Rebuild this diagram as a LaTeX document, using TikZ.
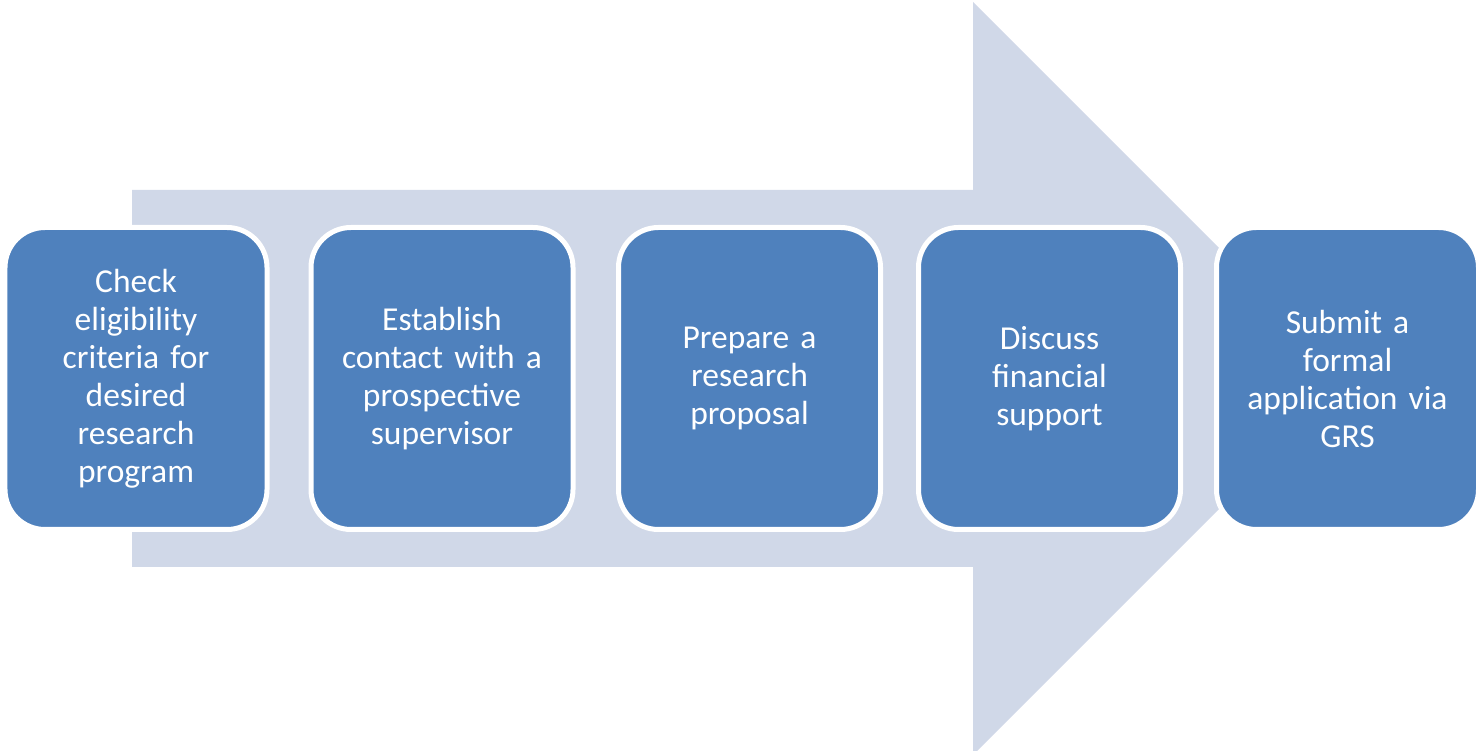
\documentclass[tikz,border=0pt]{standalone}
\usepackage{fontspec}
\setmainfont{Carlito}
\usetikzlibrary{positioning}
\definecolor{stageblue}{RGB}{79, 129, 189}
\definecolor{arrowgrey}{RGB}{208, 216, 232}

\begin{document}
\begin{tikzpicture}[
        x=0.4pt, y=-0.4pt,
        stage/.style={draw=white, line width=2pt, fill=stageblue, rounded corners=16pt,
            minimum width=104.8pt, minimum height=120.8pt, text width=98pt,
            align=center, text=white, font=\fontsize{13.4}{15.2}\selectfont}
    ]
        \useasboundingbox (0, 0) rectangle (1481, 751);

        % Background arrow
        \fill[arrowgrey] (132, 190) -- (973, 190) -- (973, 2) -- (1349.5, 378.5)
            -- (973, 755) -- (973, 567) -- (132, 567) -- cycle;

        % Stages
        \foreach \i/\x/\txt in {
            1/136/{Check\\eligibility\\criteria for\\desired\\research\\program},
            2/442/{Establish\\contact with a\\prospective\\supervisor},
            3/749.5/{Prepare a\\research\\proposal},
            4/1049.5/{Discuss\\financial\\support},
            5/1347.5/{Submit a\\formal\\application via\\GRS}} {
            \node[stage] (stage\i) at (\x, 378.5) {\txt};
        }
    \end{tikzpicture}
\end{document}
